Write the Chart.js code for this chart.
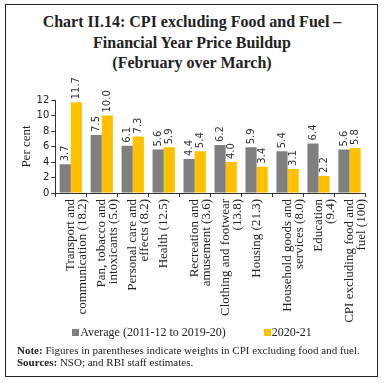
<!DOCTYPE html>
<html>
<head>
<meta charset="utf-8">
<script src="https://cdn.jsdelivr.net/npm/chart.js@4"></script>
<style>
  html, body { margin: 0; padding: 0; background: #fff; }
  #wrap { position: relative; width: 384px; height: 383px; overflow: hidden; }
  #frame { position: absolute; left: 5px; top: 4px; width: 373px; height: 373px; border: 1px solid #222; box-sizing: border-box; }
  canvas { position: absolute; left: 0; top: 0; }
  #title { position: absolute; left: 0; top: 12px; width: 384px; text-align: center; font-family: "Liberation Serif", serif; font-weight: bold; font-size: 16px; line-height: 20.5px; color: #222; }
  .note { position: absolute; left: 17px; font-family: "Liberation Serif", serif; font-size: 11px; color: #222; white-space: nowrap; }
  #legend { position: absolute; left: 0; top: 325px; width: 384px; text-align: center; font-family: "Liberation Serif", serif; font-size: 12px; color: #222; white-space: nowrap; }
  .lg { display: inline-block; }
  .sw { display: inline-block; width: 7px; height: 7px; margin-right: 1px; vertical-align: 0px; }
</style>
</head>
<body>
<div id="wrap">
  <div id="frame"></div>
  <div id="title">Chart II.14: CPI excluding Food and Fuel –<br>Financial Year Price Buildup<br>(February over March)</div>
  <canvas id="c" width="384" height="383"></canvas>
  <div id="legend"></div>
  <div class="note" style="top:344px"><b>Note:</b> Figures in parentheses indicate weights in CPI excluding food and fuel.</div>
  <div class="note" style="top:356px"><b>Sources:</b> NSO; and RBI staff estimates.</div>
</div>
<script>
const categories = [
  ["Transport and", "communication (18.2)"],
  ["Pan, tobacco and", "intoxicants (5.0)"],
  ["Personal care and", "effects (8.2)"],
  "Health (12.5)",
  ["Recreation and", "amusement (3.6)"],
  ["Clothing and footwear", "(13.8)"],
  "Housing (21.3)",
  ["Household goods and", "services (8.0)"],
  ["Education", "(9.4)"],
  ["CPI excluding food and", "fuel (100)"]
];
const averageValues = [3.7, 7.5, 6.1, 5.6, 4.4, 6.2, 5.9, 5.4, 6.4, 5.6];
const fy2021Values = [11.7, 10.0, 7.3, 5.9, 5.4, 4.0, 3.4, 3.1, 2.2, 5.8];
const seriesNames = ["Average (2011-12 to 2019-20)", "2020-21"];
const seriesColors = ["#7f7f7f", "#ffc000"];
const yTicks = [0, 2, 4, 6, 8, 10, 12];

const valueLabels = {
  id: 'valueLabels',
  afterDatasetsDraw(chart) {
    const ctx = chart.ctx;
    ctx.save();
    ctx.font = '10px "DejaVu Sans", sans-serif';
    ctx.fillStyle = '#333';
    ctx.textAlign = 'left';
    ctx.textBaseline = 'middle';
    chart.data.datasets.forEach((ds, di) => {
      const meta = chart.getDatasetMeta(di);
      meta.data.forEach((bar, i) => {
        const v = ds.data[i];
        ctx.save();
        ctx.translate(bar.x, bar.y - 3);
        ctx.rotate(-Math.PI / 2);
        ctx.fillText(v.toFixed(1), 0, 0);
        ctx.restore();
      });
    });
    ctx.restore();
  }
};

const chart = new Chart(document.getElementById('c'), {
  type: 'bar',
  data: {
    labels: categories,
    datasets: [
      { label: seriesNames[0], data: averageValues, backgroundColor: seriesColors[0], barPercentage: 1.0, categoryPercentage: 0.72 },
      { label: seriesNames[1], data: fy2021Values, backgroundColor: seriesColors[1], barPercentage: 1.0, categoryPercentage: 0.72 }
    ]
  },
  options: {
    responsive: false,
    animation: false,
    devicePixelRatio: 1,
    layout: { padding: { left: 19, right: 19, top: 100, bottom: 56 } },
    plugins: {
      title: { display: false },
      legend: { display: false },
      tooltip: { enabled: false }
    },
    scales: {
      x: {
        afterFit(scale) { scale.height = 134; },
        grid: { display: true, drawOnChartArea: false, drawTicks: true, tickLength: 4, color: '#333' },
        border: { color: '#333' },
        ticks: {
          minRotation: 90, maxRotation: 90, autoSkip: false, padding: 2,
          font: { family: '"Liberation Serif", serif', size: 13, lineHeight: 0.92 },
          color: '#222'
        }
      },
      y: {
        min: 0, max: 12,
        afterBuildTicks(axis) { axis.ticks = yTicks.map(v => ({ value: v })); },
        grid: { display: true, drawOnChartArea: false, drawTicks: true, tickLength: 4, color: '#333' },
        border: { color: '#333' },
        title: { display: true, text: 'Per cent', font: { family: '"Liberation Serif", serif', size: 13 }, color: '#222', padding: 0 },
        ticks: { font: { family: '"DejaVu Sans", sans-serif', size: 10 }, color: '#222', padding: 2 }
      }
    }
  },
  plugins: [valueLabels]
});

const lg = document.getElementById('legend');
chart.data.datasets.forEach((ds, i) => {
  const item = document.createElement('span');
  item.className = 'lg';
  if (i > 0) item.style.marginLeft = '38px';
  const sw = document.createElement('span');
  sw.className = 'sw';
  sw.style.background = ds.backgroundColor;
  item.appendChild(sw);
  item.appendChild(document.createTextNode(ds.label));
  lg.appendChild(item);
});
</script>
</body>
</html>
